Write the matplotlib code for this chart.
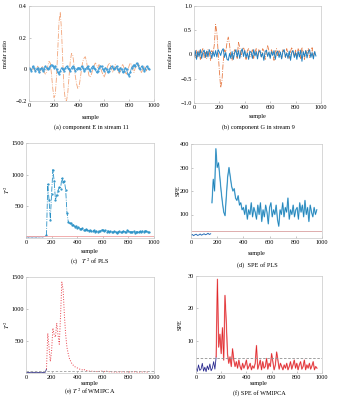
"""Six-panel fault monitoring figure: raw compositions, PLS and WMIPCA statistics."""

import matplotlib

matplotlib.use("Agg")

import matplotlib.pyplot as plt
import numpy as np

# sample index (every 10th sample)
sample = np.arange(0, 961, 10)
fault_start = 16  # index of sample 160

# (a) component E in stream 11
e_stream11_orange = [
    0.00, 0.01, -0.01, 0.01, 0.00, -0.01, 0.01, 0.02, 0.00, -0.02,
    0.01, 0.02, -0.01, -0.03, -0.02, 0.02, 0.05, 0.04, -0.03, -0.12,
    -0.18, -0.16, -0.05, 0.12, 0.30, 0.36, 0.25, 0.05, -0.12, -0.19,
    -0.20, -0.15, -0.05, 0.05, 0.10, 0.09, 0.03, -0.04, -0.09, -0.12,
    -0.11, -0.06, 0.00, 0.05, 0.07, 0.08, 0.05, 0.00, -0.04, -0.05,
    -0.03, 0.00, 0.02, 0.04, 0.03, 0.01, 0.03, 0.02, -0.01, -0.03,
    -0.05, -0.03, 0.00, 0.02, 0.04, 0.03, 0.00, -0.02, 0.01, 0.03,
    0.02, -0.01, -0.03, -0.01, 0.02, 0.03, 0.01, -0.02, -0.03, -0.01,
    0.02, 0.04, 0.03, 0.00, -0.02, 0.01, 0.03, 0.04, 0.02, -0.01,
    -0.02, 0.00, 0.02, 0.01, -0.01, 0.00, 0.01,
]
e_stream11_blue = [
    0.01, 0.00, -0.01, 0.02, 0.01, -0.01, 0.00, 0.01, -0.02, 0.00,
    0.01, -0.01, 0.00, 0.02, 0.01, 0.00, 0.01, 0.02, 0.03, 0.02,
    0.01, 0.02, 0.00, -0.02, -0.03, -0.01, 0.01, 0.00, -0.01, 0.01,
    0.02, 0.01, 0.00, -0.01, 0.01, 0.02, 0.01, -0.01, 0.00, 0.01,
    0.01, 0.00, 0.02, 0.01, -0.01, 0.00, 0.01, 0.02, 0.00, -0.01,
    0.01, 0.02, 0.01, 0.00, -0.02, -0.01, 0.01, 0.02, 0.02, 0.00,
    -0.01, 0.01, 0.00, -0.02, -0.01, 0.01, 0.02, 0.01, 0.00, 0.01,
    0.02, 0.00, -0.01, 0.01, 0.00, -0.02, -0.01, 0.01, 0.00, -0.03,
    -0.04, -0.02, 0.01, 0.02, 0.03, 0.02, 0.04, 0.03, 0.01, 0.00,
    0.02, 0.01, -0.01, 0.00, 0.02, 0.01, 0.00,
]

# (b) component G in stream 9
g_stream9_orange = [
    0.05, -0.08, 0.10, -0.05, 0.08, -0.10, 0.06, 0.12, -0.06, 0.04,
    -0.08, 0.10, 0.05, -0.12, 0.08, 0.02, 0.20, 0.62, 0.45, 0.05,
    -0.35, -0.68, -0.55, -0.15, 0.10, 0.05, 0.25, 0.36, 0.20, -0.05,
    -0.12, 0.02, 0.10, 0.05, -0.08, 0.25, 0.15, -0.05, 0.08, 0.15,
    0.05, -0.10, 0.08, 0.12, -0.05, 0.02, 0.10, -0.08, 0.05, 0.12,
    -0.06, 0.10, 0.04, -0.05, 0.12, 0.08, -0.10, 0.05, 0.18, 0.08,
    -0.05, 0.10, 0.02, -0.12, 0.06, 0.12, -0.04, 0.08, 0.02, -0.08,
    0.10, 0.05, -0.06, 0.12, 0.02, -0.08, 0.06, 0.15, 0.04, -0.05,
    0.10, -0.04, 0.12, 0.06, -0.08, 0.15, 0.04, -0.10, 0.08, 0.02,
    0.12, -0.06, 0.05, 0.14, -0.04, 0.06, 0.02,
]
g_stream9_blue = [
    -0.05, 0.08, -0.10, 0.06, -0.04, 0.10, -0.08, 0.05, 0.09, -0.06,
    0.07, -0.05, 0.10, 0.04, -0.08, 0.06, -0.04, 0.08, -0.05, 0.10,
    0.05, -0.02, 0.08, 0.12, -0.06, 0.04, -0.10, -0.12, 0.02, -0.08,
    0.06, -0.10, 0.04, 0.10, -0.05, 0.08, -0.08, 0.06, 0.12, -0.04,
    0.08, -0.06, 0.03, -0.10, 0.07, 0.04, -0.08, 0.10, -0.03, 0.06,
    -0.09, 0.05, 0.08, -0.05, 0.03, -0.12, 0.06, 0.09, -0.04, 0.05,
    -0.08, 0.06, -0.02, 0.08, -0.10, 0.04, 0.07, -0.06, 0.05, -0.09,
    0.06, 0.10, -0.05, 0.03, -0.08, 0.07, -0.12, 0.05, 0.08, -0.06,
    0.04, -0.10, 0.07, -0.05, 0.09, -0.14, 0.06, -0.04, 0.08, -0.07,
    0.05, 0.10, -0.06, 0.04, -0.09, 0.06, -0.03,
]

# (c) T^2 of PLS
pls_t2 = [
    15, 18, 12, 20, 16, 14, 19, 17, 13, 21,
    16, 18, 20, 15, 22, 24, 40, 850, 600, 290,
    700, 1080, 900, 600, 680, 750, 800, 780, 950, 880,
    900, 760, 400, 260, 230, 240, 200, 210, 180, 190,
    160, 170, 150, 140, 155, 130, 125, 140, 120, 115,
    125, 110, 105, 120, 100, 110, 95, 115, 105, 125,
    130, 110, 120, 100, 115, 95, 105, 90, 100, 110,
    95, 85, 100, 105, 90, 95, 110, 100, 90, 120,
    105, 95, 100, 90, 110, 85, 95, 100, 90, 105,
    95, 110, 100, 115, 105, 95, 100,
]
pls_t2_limit = 30

# (d) SPE of PLS
pls_spe = [
    12, 15, 10, 14, 16, 11, 13, 17, 12, 15, 18, 14, 16, 20, 15, 18,
    150, 250, 200, 380, 300, 320, 260, 200, 150, 110,
    95, 180, 260, 300, 260, 220, 200, 210, 170, 160,
    180, 140, 150, 120, 130, 100, 140, 80, 120, 100,
    150, 90, 130, 110, 80, 140, 100, 150, 70, 120,
    90, 140, 110, 60, 130, 150, 90, 120, 100, 140,
    80, 50, 120, 100, 150, 90, 130, 110, 170, 80,
    120, 100, 140, 90, 120, 130, 80, 150, 110, 140,
    90, 160, 100, 130, 70, 140, 110, 90, 130, 100,
    120,
]
pls_spe_limit = 30

# (e) T^2 of WMIPCA
wmipca_t2 = [
    8, 10, 6, 9, 12, 7, 10, 8, 11, 9, 7, 10, 12, 8, 9, 11,
    60, 620, 400, 180, 350, 700, 600, 560, 780, 600,
    450, 900, 1420, 1300, 900, 600, 400, 300, 220, 180,
    140, 120, 100, 90, 80, 70, 60, 55, 50, 60,
    45, 40, 35, 30, 28, 30, 25, 22, 28, 24,
    20, 25, 22, 30, 26, 22, 35, 28, 24, 20,
    22, 18, 20, 16, 18, 15, 20, 16, 14, 18,
    20, 16, 14, 18, 22, 16, 14, 18, 15, 20,
    16, 14, 18, 15, 20, 16, 22, 18, 14, 16,
    18,
]
wmipca_t2_limit = 30

# (f) SPE of WMIPCA
wmipca_spe = [
    1.5, 0.5, 2.5, 0.8, 1.2, 3.0, 0.6, 1.8, 0.4, 2.2, 1.0, 2.8, 0.7, 1.5, 3.5, 1.2,
    5, 29, 8, 12, 6, 14, 4, 24, 16, 6,
    3, 5, 2, 7.5, 4, 2, 3.5, 1.5, 4, 2,
    1, 3, 1.5, 2.5, 4, 1.2, 2, 3, 1, 2.2,
    1.5, 3, 8.5, 1.2, 2.5, 4, 1, 3.5, 1.5, 2,
    4.5, 1.2, 3, 2, 6, 3.5, 1, 2.5, 6.5, 4,
    1.2, 3, 2, 1, 2.5, 1.5, 3, 1, 2, 3.5,
    1.2, 2.5, 4, 1.5, 3, 1, 2.5, 3.5, 1.2, 2,
    4, 1, 2.5, 1.5, 3, 1.2, 2.2, 3.5, 1, 2,
    1.5,
]
wmipca_spe_limit = 4.5

plt.rcParams["font.family"] = ["Liberation Serif", "DejaVu Serif"]
plt.rcParams["mathtext.fontset"] = "stix"
plt.rcParams["font.size"] = 4.5

W, H = 350, 399
fig = plt.figure(figsize=(W / 100, H / 100), dpi=100)


def make_ax(left, top, right, bottom):
    ax = fig.add_axes([left / W, 1 - bottom / H, (right - left) / W, (bottom - top) / H])
    for s in ax.spines.values():
        s.set_color("#c8c8c8")
        s.set_linewidth(0.5)
    ax.tick_params(direction="in", length=1.5, width=0.4, color="#999999",
                   labelsize=4.5, pad=1.5, top=False, right=False)
    ax.set_xlim(0, 1000)
    ax.set_xticks([0, 200, 400, 600, 800, 1000])
    return ax


def text_at(x, y, s, **kw):
    fig.text(x / W, 1 - y / H, s, ha="center", va="center", fontsize=4.5, **kw)


def ylabel_at(x, y, s):
    text_at(x, y, s, rotation=90)


# (a)
ax = make_ax(29, 6, 154, 101)
ax.plot(sample, e_stream11_orange, color="#f2a57a", lw=0.6, ls="-.")
ax.plot(sample, e_stream11_blue, color="#3d9bd6", lw=0.6, marker=".", ms=1.2)
ax.set_ylim(-0.2, 0.4)
ax.set_yticks([-0.2, 0, 0.2, 0.4])
ax.set_yticklabels(["\u22120.2", "0", "0.2", "0.4"])
ylabel_at(6, 54, "molar ratio")
text_at(91, 118, "sample")
text_at(91, 127, "(a) component E in stream 11")

# (b)
ax = make_ax(194, 6, 321, 103)
ax.plot(sample, g_stream9_orange, color="#e67a45", lw=0.6, ls="-.")
ax.plot(sample, g_stream9_blue, color="#1f7fc0", lw=0.7)
ax.set_ylim(-1.0, 1.0)
ax.set_yticks([-1.0, -0.5, 0, 0.5, 1.0])
ax.set_yticklabels(["\u22121.0", "\u22120.5", "0", "0.5", "1.0"])
ylabel_at(171, 54, "molar ratio")
text_at(258, 117, "sample")
text_at(258, 127, "(b) component G in stream 9")

# (c)
ax = make_ax(26, 143, 154, 238)
ax.plot(sample[:fault_start + 1], pls_t2[:fault_start + 1], color="#4a7fb8", lw=0.6)
ax.plot(sample[fault_start:], pls_t2[fault_start:], color="#2a91c6", lw=0.6,
        ls="-.", marker=".", ms=1.2)
ax.axhline(pls_t2_limit, color="#f0a0a0", lw=0.6)
ax.set_ylim(0, 1500)
ax.set_yticks([500, 1000, 1500])
ylabel_at(7, 190, "$T^{\\,2}$")
text_at(90, 252, "sample")
text_at(90, 262, "(c)   $T^{\\,2}$ of PLS")

# (d)
ax = make_ax(191, 144, 322, 238)
ax.plot(sample[:fault_start], pls_spe[:fault_start], color="#2a6fb8", lw=0.7)
ax.plot(sample[fault_start:], pls_spe[fault_start:], color="#8cc7e8", lw=1.0)
ax.plot(sample[fault_start:], pls_spe[fault_start:], color="#1a7fb5", lw=0.5)
ax.axhline(pls_spe_limit, xmin=0.01, color="#d9a0a0", lw=0.6)
ax.set_ylim(0, 400)
ax.set_yticks([100, 200, 300, 400])
ylabel_at(178, 191, "SPE")
text_at(257, 253, "sample")
text_at(257, 265, "(d)  SPE of PLS")

# (e)
ax = make_ax(26, 277, 154, 373)
ax.plot(sample[:fault_start + 1], wmipca_t2[:fault_start + 1], color="#3a3a8a", lw=0.6)
ax.plot(sample[fault_start:], wmipca_t2[fault_start:], color="#e8404a", lw=0.7, ls=":")
ax.axhline(wmipca_t2_limit, color="#a0a0a0", lw=0.6, ls="--", dashes=(3, 2))
ax.set_ylim(0, 1500)
ax.set_yticks([500, 1000, 1500])
ylabel_at(7, 325, "$T^{\\,2}$")
text_at(90, 383, "sample")
text_at(90, 392, "(e) $T^{\\,2}$ of WMIPCA")

# (f)
ax = make_ax(196, 276, 322, 373)
ax.plot(sample[:fault_start + 1], wmipca_spe[:fault_start + 1], color="#2a2a90", lw=0.6)
ax.plot(sample[fault_start:], wmipca_spe[fault_start:], color="#f4a0a8", lw=1.0)
ax.plot(sample[fault_start:], wmipca_spe[fault_start:], color="#e02828", lw=0.5)
ax.axhline(wmipca_spe_limit, color="#909090", lw=0.6, ls="--", dashes=(3, 2))
ax.set_ylim(0, 30)
ax.set_yticks([10, 20, 30])
ylabel_at(180, 325, "SPE")
text_at(259, 384, "sample")
text_at(259, 393, "(f) SPE of WMIPCA")

fig.savefig("out.png", dpi=100, facecolor="white")
plt.close(fig)
